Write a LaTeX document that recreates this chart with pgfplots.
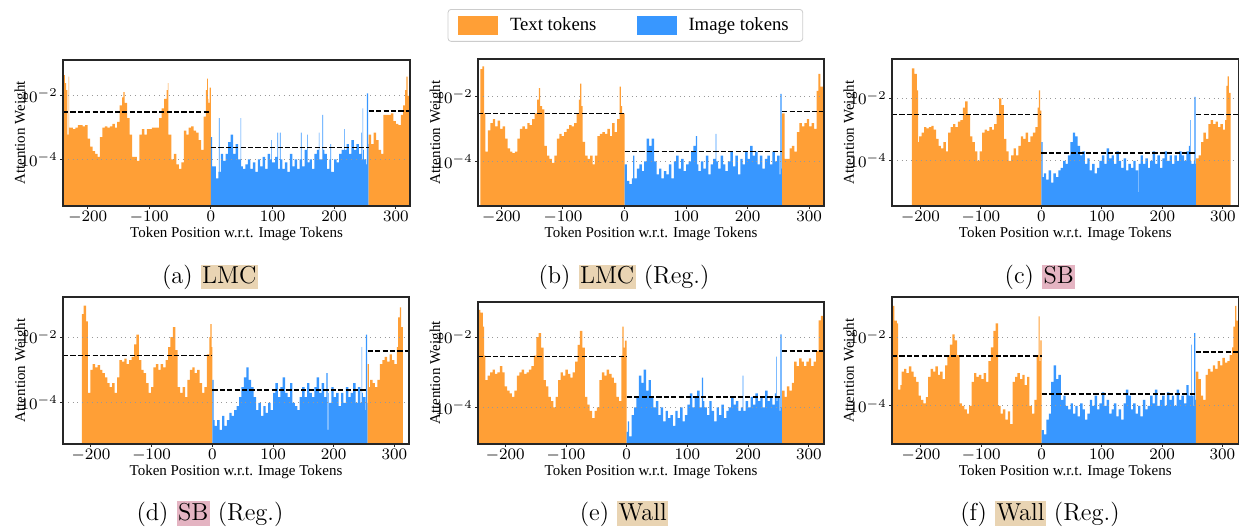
\documentclass[border=0pt]{standalone}
\usepackage{pgfplots}
\pgfplotsset{compat=1.18}
\usepackage{fontspec}
\newfontfamily\lib{Liberation Serif}
\definecolor{txtc}{RGB}{255,159,54}
\definecolor{imgc}{RGB}{56,151,255}
\definecolor{lmc}{RGB}{233,212,179}
\definecolor{sbc}{RGB}{228,180,194}
\newcommand{\hlbox}[2]{{\setlength{\fboxsep}{0.75pt}\colorbox{#1}{\rule[-2.25pt]{0pt}{9.25pt}#2}}}
\pgfplotsset{
 mypanel/.style={
  scale only axis, log origin y=infty, axis on top,
  ytick={1e-4,1e-2},
  xtick={-200,-100,0,100,200,300},
  tick align=outside, major tick length=1.5pt, tick pos=left,
  ymajorgrids,
  grid style={black!40, dotted, line width=0.5pt},
  tick label style={font=\fontsize{8}{9.6}\selectfont},
  xticklabel style={inner sep=1pt},
  yticklabel style={inner sep=1pt},
  xlabel={Token Position w.r.t. Image Tokens}, ylabel={Attention Weight},
  label style={font=\lib\fontsize{7.5}{9}\selectfont},
  xlabel style={at={(axis description cs:0.5,0)}, yshift=-15.5pt, anchor=base},
  ylabel style={at={(axis description cs:-0.1098,0.5)}, anchor=base},
  axis line style={line width=0.6pt, black!85},
  tick style={black!85, line width=0.5pt},
 },
}
\tikzset{
 txtbar/.style={fill=txtc, draw=none},
 imgbar/.style={fill=imgc, draw=none},
 meanline/.style={black, line width=0.75pt, dash pattern=on 2.6pt off 1.1pt},
}
\begin{document}
\begin{tikzpicture}
\useasboundingbox (0,0) rectangle (619.5pt,263.5pt);
% ---------------- (a)
\begin{axis}[ymode=log, mypanel, at={(31.5pt,160.5pt)}, anchor=south west, width=173.5pt, height=73pt,
  xmin=-240, xmax=323, ymin=3.4e-6, ymax=0.134]
\addplot[ybar interval, txtbar] coordinates {(-241,0.045)(-237,0.025)(-235,1.5e-2)(-233,6e-4)(-231,0.04)(-230,1e-3)(-228,1e-3)(-224,9e-4)(-220,1e-3)(-216,1.2e-3)(-212,1.2e-3)(-208,1.1e-3)(-204,1.2e-3)(-200,4.5e-4)(-196,2.5e-4)(-192,1.8e-4)(-188,1.5e-4)(-184,1.2e-4)(-180,5e-4)(-176,1e-3)(-172,1.1e-3)(-168,1e-3)(-164,1.1e-3)(-160,1.3e-3)(-156,1e-3)(-152,1.5e-3)(-148,5e-3)(-144,9e-3)(-142,1.3e-2)(-140,6e-3)(-136,2e-3)(-132,6e-4)(-128,1.2e-4)(-124,1.2e-4)(-120,9e-5)(-116,6e-4)(-112,9e-4)(-108,6e-4)(-104,9e-4)(-100,9e-4)(-96,1e-3)(-92,1e-3)(-88,1e-3)(-84,2e-3)(-80,4e-3)(-76,8e-3)(-72,1.5e-2)(-70,2.5e-2)(-69,6e-4)(-64,1e-4)(-60,1.5e-4)(-56,7e-5)(-52,5e-5)(-48,8e-5)(-44,8e-4)(-40,6e-4)(-36,1e-3)(-32,1.1e-3)(-28,8e-4)(-24,7e-4)(-20,4e-4)(-16,2e-4)(-12,2.2e-3)(-8,1.5e-2)(-6,3.5e-2)(-5,8e-3)(-4,6e-3)(-2,1.8e-2)(0,1.8e-2)};
\addplot[ybar interval, imgbar] coordinates {(0,5e-4)(2,6e-5)(4,6e-5)(8,2.5e-5)(12,4e-5)(13,2e-3)(14,4e-5)(16,1.5e-4)(20,9e-5)(24,1.5e-4)(28,3.5e-4)(32,6e-4)(36,1.5e-4)(40,3e-4)(44,1e-4)(48,2e-3)(49,6e-5)(52,5e-5)(56,7e-5)(60,1e-4)(64,5e-5)(68,8e-5)(72,4e-5)(76,1e-4)(80,6e-5)(84,1.2e-4)(88,5e-5)(92,1.5e-4)(96,1e-4)(98,4e-4)(99,8e-5)(104,1.2e-4)(108,7e-4)(109,5e-5)(112,7e-4)(113,1e-4)(116,5e-5)(120,8e-5)(124,4e-5)(128,1.5e-4)(132,6e-5)(136,1e-4)(140,5e-5)(144,1e-4)(146,7e-4)(147,1e-4)(148,6e-5)(152,2e-4)(156,6e-4)(157,8e-5)(160,1e-4)(164,5e-5)(168,1.5e-4)(172,2e-4)(175,7e-4)(176,1e-4)(180,1e-4)(181,2.5e-3)(182,2e-4)(184,1.5e-4)(188,5e-5)(192,1e-4)(194,3e-4)(195,4e-5)(200,1e-4)(204,8e-5)(208,1.5e-4)(212,2e-4)(216,9e-4)(217,2e-4)(220,3e-4)(224,1.5e-4)(228,4e-4)(232,2e-4)(236,3e-4)(240,1.5e-4)(244,7e-4)(245,1e-4)(246,4e-3)(247,2e-4)(248,1e-4)(252,7e-5)(253,1.2e-2)(255,3e-4)(256,3e-4)};
\addplot[ybar interval, txtbar] coordinates {(256,6e-4)(260,3e-4)(264,7e-4)(268,4e-4)(272,2e-4)(276,1.5e-4)(280,2.5e-3)(284,2.5e-3)(288,2.5e-3)(292,2.8e-3)(296,1.6e-3)(300,1.3e-3)(304,1.2e-3)(308,2.5e-3)(312,5e-3)(315,1.5e-2)(317,4e-2)(319,1e-2)(321,8e-3)(324,8e-3)};
\addplot[meanline] coordinates {(-240,3.1e-3)(0,3.1e-3)};
\addplot[meanline] coordinates {(0,2.4e-4)(256,2.4e-4)};
\addplot[meanline] coordinates {(256,3.3e-3)(323,3.3e-3)};
\end{axis}
% ---------------- (b)
\begin{axis}[ymode=log, mypanel, at={(239pt,160.5pt)}, anchor=south west, width=173pt, height=73.5pt,
  xmin=-238, xmax=324, ymin=4.2e-6, ymax=0.143,
  legend columns=2,
  legend image code/.code={\fill[#1, draw=none, sharp corners] (0pt,-4.75pt) rectangle (20pt,4.75pt);},
  legend style={at={(axis description cs:0.426,1.340)}, anchor=north, draw=black!20, rounded corners=1.5pt, fill=white,
    font=\lib\fontsize{9.35}{11}\selectfont, inner xsep=5pt, inner ysep=2pt,
    /tikz/every even column/.append style={column sep=18pt},
    /tikz/every odd column/.append style={column sep=4pt}}]
\addlegendimage{fill=txtc}\addlegendentry{Text tokens}
\addlegendimage{fill=imgc}\addlegendentry{Image tokens}
\addplot[ybar interval, txtbar] coordinates {(-234,0.07)(-231,0.085)(-228,3e-3)(-226,2e-4)(-222,9e-4)(-218,1.5e-3)(-214,2e-3)(-210,1.2e-3)(-206,1.8e-3)(-202,1e-3)(-198,1.2e-3)(-194,5e-4)(-190,2.5e-4)(-186,2e-4)(-182,1.8e-4)(-178,2e-4)(-174,5e-4)(-170,1e-3)(-166,1.2e-3)(-162,1e-3)(-158,1.5e-3)(-154,1.3e-3)(-150,2e-3)(-146,3e-3)(-142,8e-3)(-139,1.8e-2)(-137,5e-3)(-134,4e-3)(-130,3e-4)(-126,1.5e-4)(-122,1.2e-4)(-118,9e-5)(-114,1.5e-4)(-110,5e-4)(-106,7e-4)(-102,6e-4)(-98,8e-4)(-94,1e-3)(-90,1.3e-3)(-86,1.2e-3)(-82,1.5e-3)(-78,3e-3)(-74,8e-3)(-72,2.5e-2)(-70,5e-3)(-68,4e-4)(-64,1.5e-4)(-60,1.2e-4)(-56,1.5e-4)(-52,8e-5)(-48,1.5e-4)(-44,6e-4)(-40,7e-4)(-36,8e-4)(-32,7e-4)(-28,1e-3)(-24,6e-4)(-20,1.5e-3)(-16,8e-4)(-12,2e-3)(-8,2e-2)(-6,5e-3)(-4,3e-3)(0,3e-3)};
\addplot[ybar interval, imgbar] coordinates {(0,8e-5)(4,2.5e-5)(8,2e-5)(12,3e-5)(14,1.5e-4)(16,3e-5)(20,6e-5)(24,8e-5)(28,5e-5)(32,1e-4)(36,5e-4)(40,3e-4)(44,5e-4)(48,1e-4)(52,4e-5)(56,6e-5)(60,3e-5)(64,5e-5)(68,4e-5)(72,8e-5)(76,3e-5)(80,1e-4)(84,1.5e-4)(88,6e-5)(92,1.2e-4)(96,5e-5)(100,8e-5)(104,1e-4)(108,2e-4)(112,3e-4)(116,6e-4)(118,8e-5)(120,5e-5)(124,1e-4)(128,6e-5)(132,1.5e-4)(136,4e-5)(140,8e-5)(144,1.2e-4)(148,7e-4)(149,1e-4)(152,6e-5)(156,1.5e-4)(160,8e-5)(164,5e-5)(168,1e-4)(172,2e-4)(176,7e-5)(180,1.5e-4)(184,4e-5)(188,1.2e-4)(192,8e-5)(196,2e-4)(200,1.2e-4)(204,3e-4)(208,1.5e-4)(212,2e-4)(216,8e-5)(220,1.5e-4)(224,6e-5)(228,1.2e-4)(232,1.5e-4)(236,8e-5)(240,2e-4)(244,1e-4)(248,1.5e-4)(252,4e-5)(253,1.2e-2)(255,6e-5)(256,6e-5)};
\addplot[ybar interval, txtbar] coordinates {(256,3e-3)(260,1.2e-4)(264,1.2e-4)(268,2.5e-4)(272,3e-4)(276,2e-4)(280,8e-4)(284,1.5e-3)(288,1.2e-3)(292,1.5e-3)(296,2e-3)(300,1.2e-3)(304,1.5e-3)(308,1e-3)(312,1.5e-2)(315,5e-2)(318,2e-2)(324,2e-2)};
\addplot[meanline] coordinates {(-238,3e-3)(0,3e-3)};
\addplot[meanline] coordinates {(0,2e-4)(256,2e-4)};
\addplot[meanline] coordinates {(256,3.5e-3)(324,3.5e-3)};
\end{axis}
% ---------------- (c)
\begin{axis}[ymode=log, mypanel, at={(446pt,160.5pt)}, anchor=south west, width=173.25pt, height=73.5pt,
  xmin=-247, xmax=326, ymin=3.6e-6, ymax=0.18]
\addplot[ybar interval, txtbar] coordinates {(-214,0.09)(-210,0.06)(-206,0.018)(-204,4e-4)(-202,6e-4)(-198,8e-4)(-194,1.2e-3)(-190,1.1e-3)(-186,1.2e-3)(-182,1.3e-3)(-178,1e-3)(-174,5e-4)(-170,3e-4)(-166,2.5e-4)(-162,4e-4)(-158,2e-4)(-154,8e-4)(-150,1.2e-3)(-146,1.5e-3)(-142,1.2e-3)(-138,1.8e-3)(-134,2e-3)(-130,5e-3)(-126,8e-3)(-122,3e-3)(-118,6e-4)(-114,4e-4)(-110,2e-4)(-106,1e-4)(-102,2e-4)(-98,8e-4)(-94,1e-3)(-90,9e-4)(-86,1.2e-3)(-82,1e-3)(-78,1.5e-3)(-74,3e-3)(-70,1e-2)(-66,6e-3)(-62,5e-4)(-58,2e-4)(-54,1e-4)(-50,1.5e-4)(-46,2.5e-4)(-42,1.5e-4)(-38,3e-4)(-34,6e-4)(-30,5e-4)(-26,8e-4)(-22,4e-4)(-18,6e-4)(-14,8e-4)(-10,1.2e-3)(-6,5e-3)(-4,1.8e-2)(-2,4e-3)(0,4e-3)};
\addplot[ybar interval, imgbar] coordinates {(0,4e-4)(2,3e-5)(4,4e-5)(8,2.5e-5)(12,5e-5)(16,2e-5)(20,4e-5)(24,3e-5)(28,5e-5)(32,6e-5)(36,1e-4)(40,8e-5)(44,1.5e-4)(48,4e-4)(52,8e-4)(56,6e-4)(60,3e-4)(64,1.5e-4)(68,2e-4)(72,8e-5)(76,1.2e-4)(80,5e-5)(84,8e-5)(88,4e-5)(92,6e-5)(96,1e-4)(100,1.5e-4)(104,8e-5)(108,2.5e-4)(112,1.2e-4)(116,1.5e-4)(120,8e-5)(124,2e-4)(128,1e-4)(132,6e-5)(136,1.2e-4)(140,5e-5)(144,8e-5)(148,6e-5)(152,1e-4)(156,5e-5)(160,1e-5)(161,8e-5)(164,1.5e-4)(168,8e-5)(172,1.2e-4)(176,6e-5)(180,1e-4)(184,2e-4)(188,8e-5)(192,1.5e-4)(196,6e-5)(200,1.2e-4)(204,2e-4)(208,1e-4)(212,1.5e-4)(216,8e-5)(220,1.5e-4)(224,1e-4)(228,2e-4)(232,1.5e-4)(236,1e-4)(240,2e-4)(244,3e-4)(246,2e-3)(247,1e-4)(248,8e-5)(252,1e-4)(253,1.1e-2)(255,8e-5)(256,8e-5)};
\addplot[ybar interval, txtbar] coordinates {(256,1.2e-4)(260,1.5e-4)(264,4e-4)(268,8e-4)(272,5e-4)(276,1.5e-3)(280,2e-3)(284,1.5e-3)(288,1.8e-3)(292,1.2e-3)(296,1.5e-3)(300,1e-3)(304,2e-3)(306,2.5e-2)(308,5e-2)(310,1.5e-2)(313,1.5e-2)};
\addplot[meanline] coordinates {(-247,3e-3)(0,3e-3)};
\addplot[meanline] coordinates {(0,1.8e-4)(256,1.8e-4)};
\addplot[meanline] coordinates {(256,3e-3)(326,3e-3)};
\end{axis}
% ---------------- (d)
\begin{axis}[ymode=log, mypanel, at={(31.5pt,41.5pt)}, anchor=south west, width=173pt, height=73.5pt,
  xmin=-246, xmax=324, ymin=5.6e-6, ymax=0.166]
\addplot[ybar interval, txtbar] coordinates {(-215,0.05)(-212,0.09)(-208,0.03)(-205,2e-4)(-201,1e-3)(-197,1.5e-3)(-193,1.2e-3)(-189,1.4e-3)(-185,1e-3)(-181,8e-4)(-177,6e-4)(-173,4e-4)(-169,3e-4)(-165,4e-4)(-161,2e-4)(-157,6e-4)(-153,2e-3)(-149,1.8e-3)(-145,2.2e-3)(-141,1.5e-3)(-137,2e-3)(-133,2.5e-3)(-129,6e-3)(-125,1.2e-2)(-121,2e-3)(-117,1e-3)(-113,8e-4)(-109,4e-4)(-105,2e-4)(-101,3e-4)(-97,1.2e-3)(-93,1.5e-3)(-89,1e-3)(-85,1.5e-3)(-81,1.2e-3)(-77,2e-3)(-73,5e-3)(-69,1e-2)(-65,2e-2)(-61,4e-3)(-57,3e-4)(-53,2e-4)(-49,3e-4)(-45,1.5e-4)(-41,5e-4)(-37,1e-3)(-33,1.2e-3)(-29,8e-4)(-25,1e-3)(-21,4e-4)(-17,2e-4)(-13,3e-4)(-9,3e-3)(-5,1e-2)(-3,2.5e-2)(-1,5e-3)(0,5e-3)};
\addplot[ybar interval, imgbar] coordinates {(0,5e-4)(2,3e-5)(4,2e-5)(8,3e-5)(12,1.5e-5)(16,4e-5)(20,2e-5)(24,3e-5)(28,5e-5)(32,4e-5)(36,6e-5)(40,8e-5)(44,1.5e-4)(48,3e-4)(52,6e-4)(56,1.2e-3)(60,5e-4)(64,3e-4)(68,1.5e-4)(72,6e-5)(76,1e-4)(80,4e-5)(84,8e-5)(88,5e-5)(92,1e-4)(96,6e-5)(100,2e-4)(104,4e-4)(108,1.5e-4)(112,3e-4)(116,6e-4)(120,2e-4)(124,1.5e-4)(128,4e-4)(132,1e-4)(136,8e-5)(140,6e-5)(144,1.5e-4)(148,3e-4)(152,1.5e-4)(156,4e-4)(160,2e-4)(164,1.5e-4)(168,3e-4)(172,6e-4)(176,2e-4)(180,4e-4)(184,1.5e-4)(188,8e-4)(190,1.5e-5)(191,2e-4)(192,1e-4)(196,3e-4)(200,1.5e-4)(204,2e-4)(208,8e-5)(212,2e-4)(216,1e-4)(220,3e-4)(224,1.5e-4)(228,2e-4)(232,4e-4)(236,1e-4)(240,3e-4)(244,1e-4)(246,5e-3)(247,2e-4)(248,1.5e-4)(252,6e-5)(253,1.2e-2)(255,1e-4)(256,1e-4)};
\addplot[ybar interval, txtbar] coordinates {(256,1.5e-3)(258,3e-4)(260,5e-4)(264,4e-4)(268,3e-4)(272,5e-4)(276,1.5e-3)(280,2e-3)(284,2.5e-3)(288,1.8e-3)(292,3e-3)(296,2e-3)(300,1.5e-3)(304,5e-3)(306,4e-2)(309,8e-2)(311,2e-2)(314,2e-2)};
\addplot[meanline] coordinates {(-246,2.8e-3)(0,2.8e-3)};
\addplot[meanline] coordinates {(0,2.5e-4)(256,2.5e-4)};
\addplot[meanline] coordinates {(256,3.8e-3)(324,3.8e-3)};
\end{axis}
% ---------------- (e)
\begin{axis}[ymode=log, mypanel, at={(239pt,41.5pt)}, anchor=south west, width=173pt, height=71pt,
  xmin=-245, xmax=325, ymin=9.1e-6, ymax=0.1]
\addplot[ybar interval, txtbar] coordinates {(-246,0.06)(-241,0.05)(-237,2e-2)(-235,3e-3)(-233,6e-4)(-229,8e-4)(-225,1e-3)(-221,1.2e-3)(-217,9e-4)(-213,1e-3)(-209,1.5e-3)(-205,1e-3)(-201,4e-4)(-197,3e-4)(-193,2.5e-4)(-189,2e-4)(-185,3e-4)(-181,8e-4)(-177,1e-3)(-173,1.2e-3)(-169,9e-4)(-165,1e-3)(-161,1.2e-3)(-157,1.5e-3)(-153,3e-3)(-149,1e-2)(-145,1.3e-2)(-141,5e-3)(-137,6e-4)(-133,4e-4)(-129,2e-4)(-125,1.5e-4)(-121,1e-4)(-117,2e-4)(-113,6e-4)(-109,1e-3)(-105,8e-4)(-101,1.2e-3)(-97,9e-4)(-93,7e-4)(-89,1e-3)(-85,2e-3)(-81,6e-3)(-77,1.5e-2)(-73,5e-3)(-69,2e-4)(-65,1.2e-4)(-61,8e-5)(-57,5e-5)(-53,8e-5)(-49,1e-4)(-45,6e-4)(-41,1e-3)(-37,8e-4)(-33,1.2e-3)(-29,9e-4)(-25,7e-4)(-21,5e-4)(-17,2e-4)(-13,1.5e-4)(-9,3e-3)(-7,2e-2)(-5,5e-3)(-3,8e-3)(0,8e-3)};
\addplot[ybar interval, imgbar] coordinates {(0,2e-5)(2,4e-5)(4,1.5e-5)(8,6e-5)(12,1e-4)(16,2e-4)(20,8e-4)(24,5e-4)(28,1.2e-3)(32,3e-4)(36,6e-4)(40,2e-4)(44,1e-4)(48,1.5e-4)(52,6e-5)(56,1e-4)(60,4e-5)(64,8e-5)(68,5e-5)(72,6e-5)(76,3e-5)(80,8e-5)(84,5e-5)(88,1e-4)(92,4e-5)(96,6e-5)(100,1.2e-4)(104,2.5e-4)(108,1e-4)(112,2e-4)(116,3e-4)(120,1e-4)(124,7e-4)(126,1.5e-4)(128,1e-4)(132,6e-5)(136,1.5e-4)(140,8e-5)(144,4e-5)(148,1e-4)(152,6e-5)(156,1.2e-4)(160,5e-5)(164,8e-5)(168,1e-4)(172,2e-4)(176,1.2e-4)(180,1.5e-4)(184,8e-5)(188,1e-4)(191,8e-4)(192,8e-5)(196,1.5e-4)(200,1e-4)(204,2e-4)(208,1.2e-4)(212,2.5e-4)(216,1.5e-4)(220,2e-4)(224,1e-4)(228,3e-4)(232,1.5e-4)(236,2e-4)(240,1.2e-4)(244,2.5e-4)(246,2.8e-3)(247,1.5e-4)(248,2e-4)(252,8e-5)(253,1.2e-2)(255,1e-4)(256,1e-4)};
\addplot[ybar interval, txtbar] coordinates {(256,3e-4)(260,2e-4)(264,4e-4)(268,3e-4)(272,5e-4)(276,2e-3)(280,1.5e-3)(284,2.5e-3)(288,2e-3)(292,1.5e-3)(296,2e-3)(300,2.5e-3)(304,1.5e-3)(308,2e-3)(312,4e-3)(316,3e-2)(320,4e-2)(326,4e-2)};
\addplot[meanline] coordinates {(-245,2.8e-3)(0,2.8e-3)};
\addplot[meanline] coordinates {(0,2e-4)(256,2e-4)};
\addplot[meanline] coordinates {(256,4e-3)(325,4e-3)};
\end{axis}
% ---------------- (f)
\begin{axis}[ymode=log, mypanel, at={(446pt,41.5pt)}, anchor=south west, width=173.25pt, height=73.5pt,
  xmin=-248, xmax=326.6, ymin=7.9e-6, ymax=0.145]
\addplot[ybar interval, txtbar] coordinates {(-249,0.08)(-244,0.03)(-240,2.5e-2)(-238,3e-4)(-234,4e-4)(-232,1e-3)(-228,1.2e-3)(-224,9e-4)(-220,1.4e-3)(-216,1e-3)(-212,7e-4)(-208,5e-4)(-204,2e-4)(-200,1.5e-4)(-196,1.2e-4)(-192,1.8e-4)(-188,7e-4)(-184,1.2e-3)(-180,1e-3)(-176,1.4e-3)(-172,8e-4)(-168,1e-3)(-164,6e-4)(-160,1.5e-3)(-156,3e-3)(-152,6e-3)(-148,1.2e-2)(-144,8e-3)(-140,3e-3)(-136,1.2e-4)(-132,1e-4)(-128,8e-5)(-124,6e-5)(-120,1e-4)(-116,5e-4)(-112,9e-4)(-108,7e-4)(-104,8e-4)(-100,6e-4)(-96,9e-4)(-92,5e-4)(-88,2e-3)(-84,5e-3)(-80,1.5e-2)(-76,2.5e-2)(-72,1e-4)(-68,6e-5)(-64,8e-5)(-60,4e-5)(-56,7e-5)(-52,3e-5)(-48,5e-4)(-44,7e-4)(-40,9e-4)(-36,6e-4)(-32,8e-4)(-28,4e-4)(-24,7e-4)(-20,1e-4)(-16,6e-5)(-12,1.5e-4)(-8,3e-3)(-5,4e-2)(-3,2e-3)(-2,8e-3)(0,8e-3)};
\addplot[ybar interval, imgbar] coordinates {(0,2e-5)(4,1.5e-5)(8,4e-5)(12,6e-5)(16,5e-4)(20,1.5e-3)(24,6e-4)(28,8e-4)(32,1.5e-4)(36,2e-4)(40,1e-4)(44,8e-5)(48,1.2e-4)(52,6e-5)(56,1e-4)(60,5e-5)(64,1.2e-4)(68,8e-5)(72,4e-5)(76,6e-5)(80,1.5e-4)(84,1e-4)(88,2e-4)(92,8e-5)(96,1.2e-4)(100,2.5e-4)(104,1e-4)(108,1.5e-4)(112,6e-5)(116,8e-5)(120,1.2e-4)(124,5e-5)(128,8e-5)(132,4e-5)(136,1.2e-4)(140,3e-4)(144,2e-4)(148,8e-5)(152,1.2e-4)(156,6e-5)(160,1e-4)(164,5e-5)(168,1.5e-4)(172,8e-5)(176,1e-4)(180,2e-4)(184,1.2e-4)(188,3e-4)(192,1e-4)(196,1.5e-4)(200,2e-4)(204,1e-4)(208,2.5e-4)(212,1.5e-4)(216,2e-4)(220,1e-4)(224,3e-4)(228,1.5e-4)(232,2e-4)(236,1.2e-4)(240,4e-4)(244,2e-4)(248,6e-3)(249,2e-4)(252,1e-4)(253,1.3e-2)(255,1.5e-4)(256,1.5e-4)};
\addplot[ybar interval, txtbar] coordinates {(256,1e-3)(260,6e-4)(264,2e-4)(268,1.5e-4)(272,8e-4)(276,1.2e-3)(280,1e-3)(284,1.5e-3)(288,1.2e-3)(292,2e-3)(296,1.5e-3)(300,2.5e-3)(304,1.8e-3)(308,2e-3)(312,3e-3)(316,5e-3)(318,2e-2)(321,8e-2)(323,3e-2)(327,3e-2)};
\addplot[meanline] coordinates {(-248,2.8e-3)(0,2.8e-3)};
\addplot[meanline] coordinates {(0,2.2e-4)(256,2.2e-4)};
\addplot[meanline] coordinates {(256,3.7e-3)(326.6,3.7e-3)};
\end{axis}
% ---------------- captions
\begin{scope}[every node/.style={anchor=base, inner sep=0pt, font=\fontsize{12.25}{14.7}\selectfont}]
\node at (105pt,121.85pt) {(a) \hlbox{lmc}{LMC}};
\node at (312pt,121.85pt) {(b) \hlbox{lmc}{LMC} (Reg.)};
\node at (520pt,121.85pt) {(c) \hlbox{sbc}{SB}};
\node at (105pt,3.5pt) {(d) \hlbox{sbc}{SB} (Reg.)};
\node at (312pt,3.5pt) {(e) \hlbox{lmc}{Wall}};
\node at (520pt,3.5pt) {(f) \hlbox{lmc}{Wall} (Reg.)};
\end{scope}
\end{tikzpicture}
\end{document}
